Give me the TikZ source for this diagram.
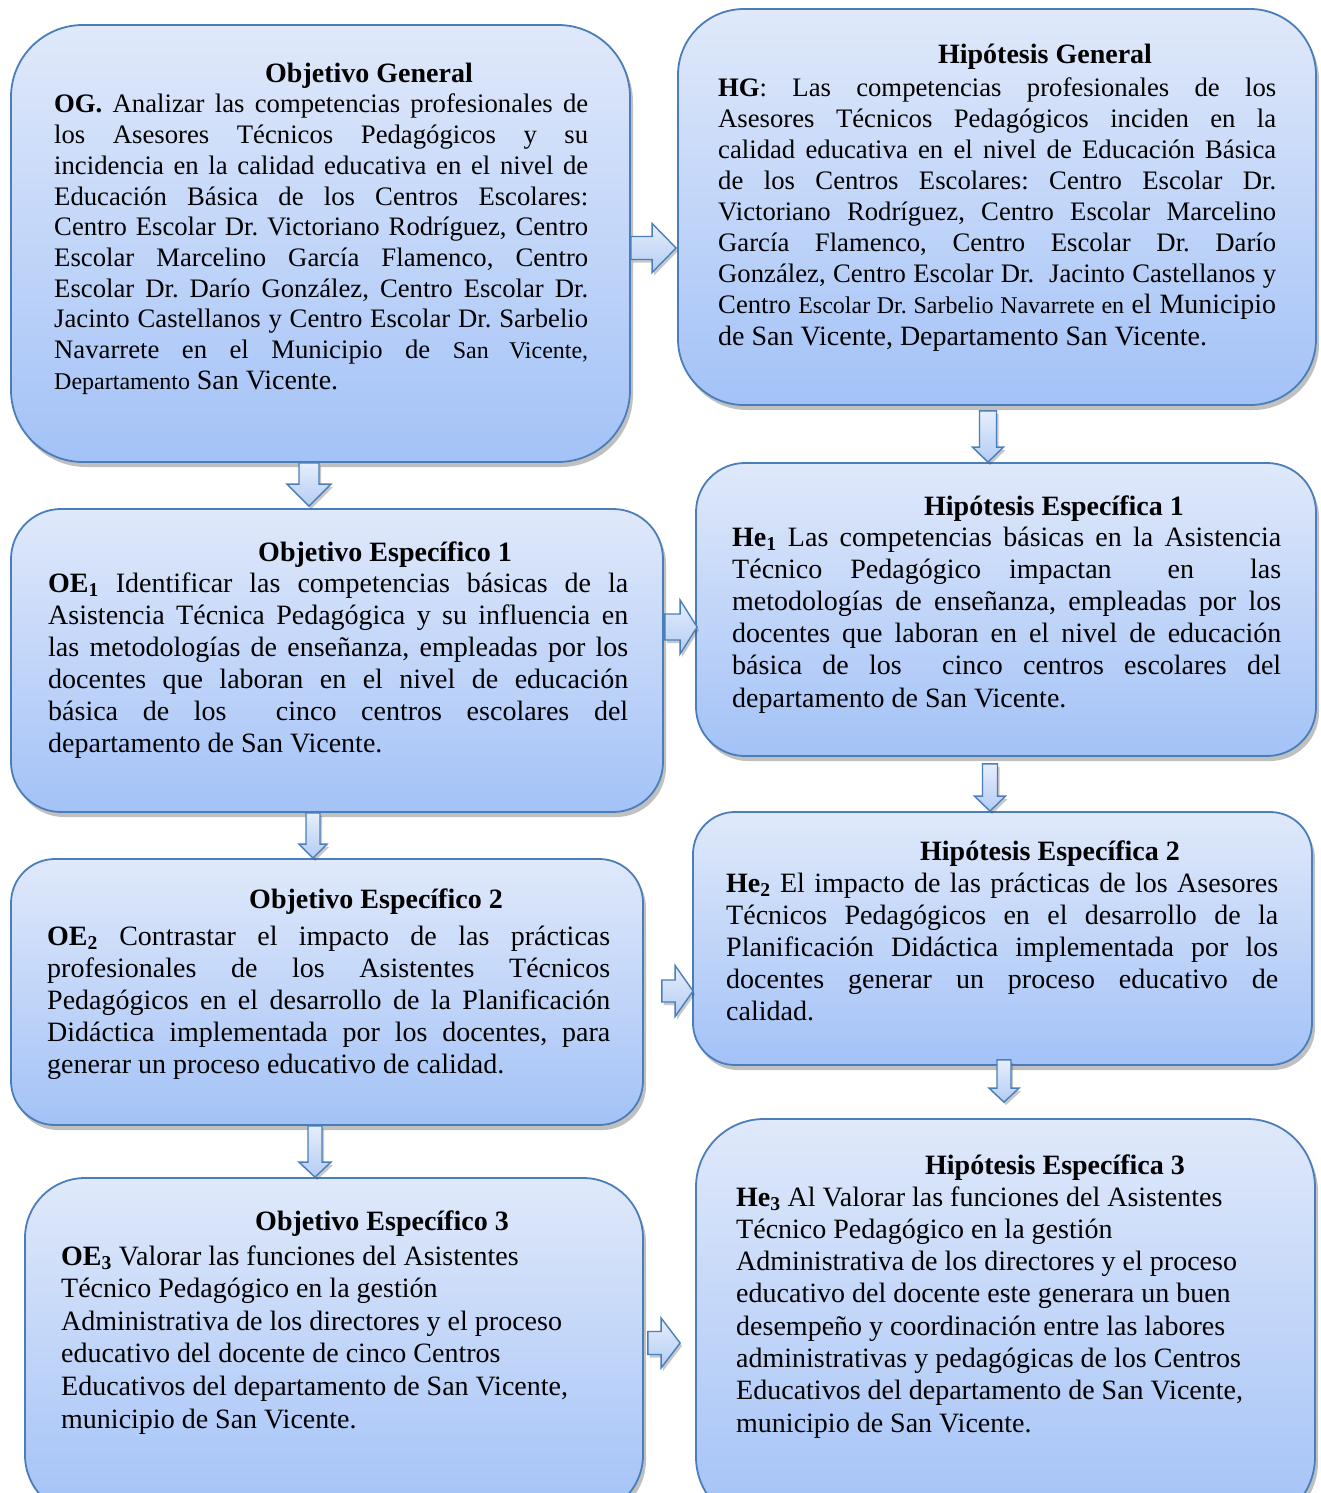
\documentclass[tikz,border=0pt]{standalone}
\usepackage{fontspec}
\setmainfont{Liberation Serif}
\usetikzlibrary{calc,shadows}
\definecolor{boxline}{HTML}{4A7EBB}
\definecolor{boxtop}{HTML}{E0E9FA}
\definecolor{boxbot}{HTML}{A3C2F7}
\definecolor{arrtop}{HTML}{E6EEFB}
\definecolor{arrbot}{HTML}{B3CCF5}
\newcommand\jl[1]{\makebox[\linewidth][s]{#1}\par}
\newcommand\rl[1]{\mbox{#1}\par}
\newcommand\smtxt[1]{{\fontsize{24}{24}\selectfont #1}}
\newcommand\bgtxt[1]{{\fontsize{28}{28}\selectfont #1}}
\newcommand\darrow[8]{%
 \draw[barrow] let \p1=(#1.south), \p2=(#2.north) in
 ({#3pt-#6pt},{\y1-(#4pt)}) -- ({#3pt+#6pt},{\y1-(#4pt)}) -- ({#3pt+#6pt},{\y2+(#5pt)+(#8pt)}) -- ({#3pt+#7pt},{\y2+(#5pt)+(#8pt)}) -- ({#3pt},{\y2+(#5pt)}) -- ({#3pt-#7pt},{\y2+(#5pt)+(#8pt)}) -- ({#3pt-#6pt},{\y2+(#5pt)+(#8pt)}) -- cycle;}
\newcommand\rarrow[8]{%
 \draw[barrow] let \p1=(#1.east), \p2=(#2.west) in
 ({\x1+(#4pt)},{-#3pt-#6pt}) -- ({\x2-(#5pt)-(#8pt)},{-#3pt-#6pt}) -- ({\x2-(#5pt)-(#8pt)},{-#3pt-#7pt}) -- ({\x2-(#5pt)},{-#3pt}) -- ({\x2-(#5pt)-(#8pt)},{-#3pt+#7pt}) -- ({\x2-(#5pt)-(#8pt)},{-#3pt+#6pt}) -- ({\x1+(#4pt)},{-#3pt+#6pt}) -- cycle;}
\begin{document}
\begin{tikzpicture}[x=1pt,y=-1pt,
  box/.style={draw=boxline, line width=1.8pt, top color=boxtop, bottom color=boxbot, inner sep=0pt,
    drop shadow={shadow xshift=3pt,shadow yshift=-5pt,opacity=0.35,fill=black!70}},
  ttl/.style={anchor=base, inner sep=0pt, font=\bfseries\fontsize{28}{32}\selectfont},
  body/.style={anchor=base west, inner sep=0pt},
  barrow/.style={draw=boxline, line width=1.4pt, top color=arrtop, bottom color=arrbot,
    drop shadow={shadow xshift=2pt,shadow yshift=-3pt,opacity=0.3,fill=black!70}}]
\useasboundingbox (0,0) rectangle (1320,1493);
\fill[white] (0,0) rectangle (1320,1493);
\clip (0,0) rectangle (1320,1493);

% boxes
\node[box, minimum width=619pt, minimum height=437pt, rounded corners=72pt] (og) at (320.5,243.5) {};
\node[box, minimum width=638pt, minimum height=396pt, rounded corners=66pt] (hg) at (997,207) {};
\node[box, minimum width=652pt, minimum height=303pt, rounded corners=50pt] (oe1) at (337,660.5) {};
\node[box, minimum width=620pt, minimum height=293pt, rounded corners=49pt] (he1) at (1006,609.5) {};
\node[box, minimum width=632pt, minimum height=266pt, rounded corners=44pt] (oe2) at (327,992) {};
\node[box, minimum width=619pt, minimum height=253pt, rounded corners=42pt] (he2) at (1002.5,938.5) {};
\node[box, minimum width=618pt, minimum height=337pt, rounded corners=60pt] (oe3) at (334,1346.5) {};
\node[box, minimum width=619pt, minimum height=406pt, rounded corners=68pt] (he3) at (1005.5,1322) {};

% titles
\node[ttl] (ogT) at (369,83) {Objetivo General};
\node[ttl] (hgT) at (1045,64) {Hipótesis General};
\node[ttl] (oe1T) at (385,561) {Objetivo Específico 1};
\node[ttl] (he1T) at (1054,515) {Hipótesis Específica 1};
\node[ttl] (oe2T) at (376,908) {Objetivo Específico 2};
\node[ttl] (he2T) at (1050,860) {Hipótesis Específica 2};
\node[ttl] (oe3T) at (382,1230) {Objetivo Específico 3};
\node[ttl] (he3T) at (1055,1174) {Hipótesis Específica 3};

% bodies
\node[body] (ogB) at (54,113) {\parbox[t]{534pt}{\fontsize{26.7}{30.67}\selectfont\frenchspacing
\jl{\textbf{OG.} Analizar las competencias profesionales de}
\jl{los Asesores Técnicos Pedagógicos y su}
\jl{incidencia en la calidad educativa en el nivel de}
\jl{Educación Básica de los Centros Escolares:}
\jl{Centro Escolar Dr. Victoriano Rodríguez, Centro}
\jl{Escolar Marcelino García Flamenco, Centro}
\jl{Escolar Dr. Darío González, Centro Escolar Dr.}
\jl{Jacinto Castellanos y Centro Escolar Dr. Sarbelio}
\jl{Navarrete en el Municipio de \smtxt{San Vicente,}}
\rl{\smtxt{Departamento} \bgtxt{San Vicente.}}}};

\node[body] (hgB) at (718,96.7) {\parbox[t]{558pt}{\fontsize{26.7}{31.04}\selectfont\frenchspacing
\jl{\textbf{HG}: Las competencias profesionales de los}
\jl{Asesores Técnicos Pedagógicos inciden en la}
\jl{calidad educativa en el nivel de Educación Básica}
\jl{de los Centros Escolares: Centro Escolar Dr.}
\jl{Victoriano Rodríguez, Centro Escolar Marcelino}
\jl{García Flamenco, Centro Escolar Dr. Darío}
\jl{González, Centro Escolar Dr. \ Jacinto Castellanos y}
\jl{Centro \smtxt{Escolar Dr. Sarbelio Navarrete en} \bgtxt{el Municipio}}
\rl{\bgtxt{de San Vicente, Departamento San Vicente.}}}};

\node[body] (oe1B) at (48,592) {\parbox[t]{580pt}{\fontsize{28}{32}\selectfont\frenchspacing
\jl{\textbf{OE\textsubscript{1}} Identificar las competencias básicas de la}
\jl{Asistencia Técnica Pedagógica y su influencia en}
\jl{las metodologías de enseñanza, empleadas por los}
\jl{docentes que laboran en el nivel de educación}
\jl{básica de los \ cinco centros escolares del}
\rl{departamento de San Vicente.}}};

\node[body] (he1B) at (732,546) {\parbox[t]{549pt}{\fontsize{28}{32.2}\selectfont\frenchspacing
\jl{\textbf{He\textsubscript{1}} Las competencias básicas en la Asistencia}
\jl{Técnico Pedagógico impactan \ en \ las}
\jl{metodologías de enseñanza, empleadas por los}
\jl{docentes que laboran en el nivel de educación}
\jl{básica de los \ cinco centros escolares del}
\rl{departamento de San Vicente.}}};

\node[body] (oe2B) at (47,945) {\parbox[t]{563pt}{\fontsize{28}{32}\selectfont\frenchspacing
\jl{\textbf{OE\textsubscript{2}} Contrastar el impacto de las prácticas}
\jl{profesionales de los Asistentes Técnicos}
\jl{Pedagógicos en el desarrollo de la Planificación}
\jl{Didáctica implementada por los docentes, para}
\rl{generar un proceso educativo de calidad.}}};

\node[body] (he2B) at (726,892) {\parbox[t]{552pt}{\fontsize{28}{32}\selectfont\frenchspacing
\jl{\textbf{He\textsubscript{2}} El impacto de las prácticas de los Asesores}
\jl{Técnicos Pedagógicos en el desarrollo de la}
\jl{Planificación Didáctica implementada por los}
\jl{docentes generar un proceso educativo de}
\rl{calidad.}}};

\node[body] (oe3B) at (61,1265) {\parbox[t]{560pt}{\fontsize{28}{32.6}\selectfont\frenchspacing
\rl{\textbf{OE\textsubscript{3}} Valorar las funciones del Asistentes}
\rl{Técnico Pedagógico en la gestión}
\rl{Administrativa de los directores y el proceso}
\rl{educativo del docente de cinco Centros}
\rl{Educativos del departamento de San Vicente,}
\rl{municipio de San Vicente.}}};

\node[body] (he3B) at (736,1206) {\parbox[t]{560pt}{\fontsize{28}{32.3}\selectfont\frenchspacing
\rl{\textbf{He\textsubscript{3}} Al Valorar las funciones del Asistentes}
\rl{Técnico Pedagógico en la gestión}
\rl{Administrativa de los directores y el proceso}
\rl{educativo del docente este generara un buen}
\rl{desempeño y coordinación entre las labores}
\rl{administrativas y pedagógicas de los Centros}
\rl{Educativos del departamento de San Vicente,}
\rl{municipio de San Vicente.}}};

% connectors (block arrows)
\darrow{og}{oe1}{309}{0}{2}{10}{22}{22}
\darrow{hg}{he1}{988}{5}{0}{8.5}{15.5}{15}
\darrow{oe1}{oe2}{313}{0}{0}{7}{14}{14}
\darrow{he1}{he2}{990}{7}{0}{7.5}{15.5}{15}
\darrow{oe2}{oe3}{315}{0}{0}{7}{16}{15}
\darrow{he2}{he3}{1004}{-6}{16}{7}{15}{14}
\rarrow{og}{hg}{248}{0}{1}{11.5}{24.5}{24}
\rarrow{oe1}{he1}{627}{1}{-2}{13}{27}{17}
\rarrow{oe2}{he2}{991}{18}{-1}{11}{25.5}{18}
\rarrow{oe3}{he3}{1343}{4}{15}{11.5}{25}{19}
\end{tikzpicture}
\end{document}
